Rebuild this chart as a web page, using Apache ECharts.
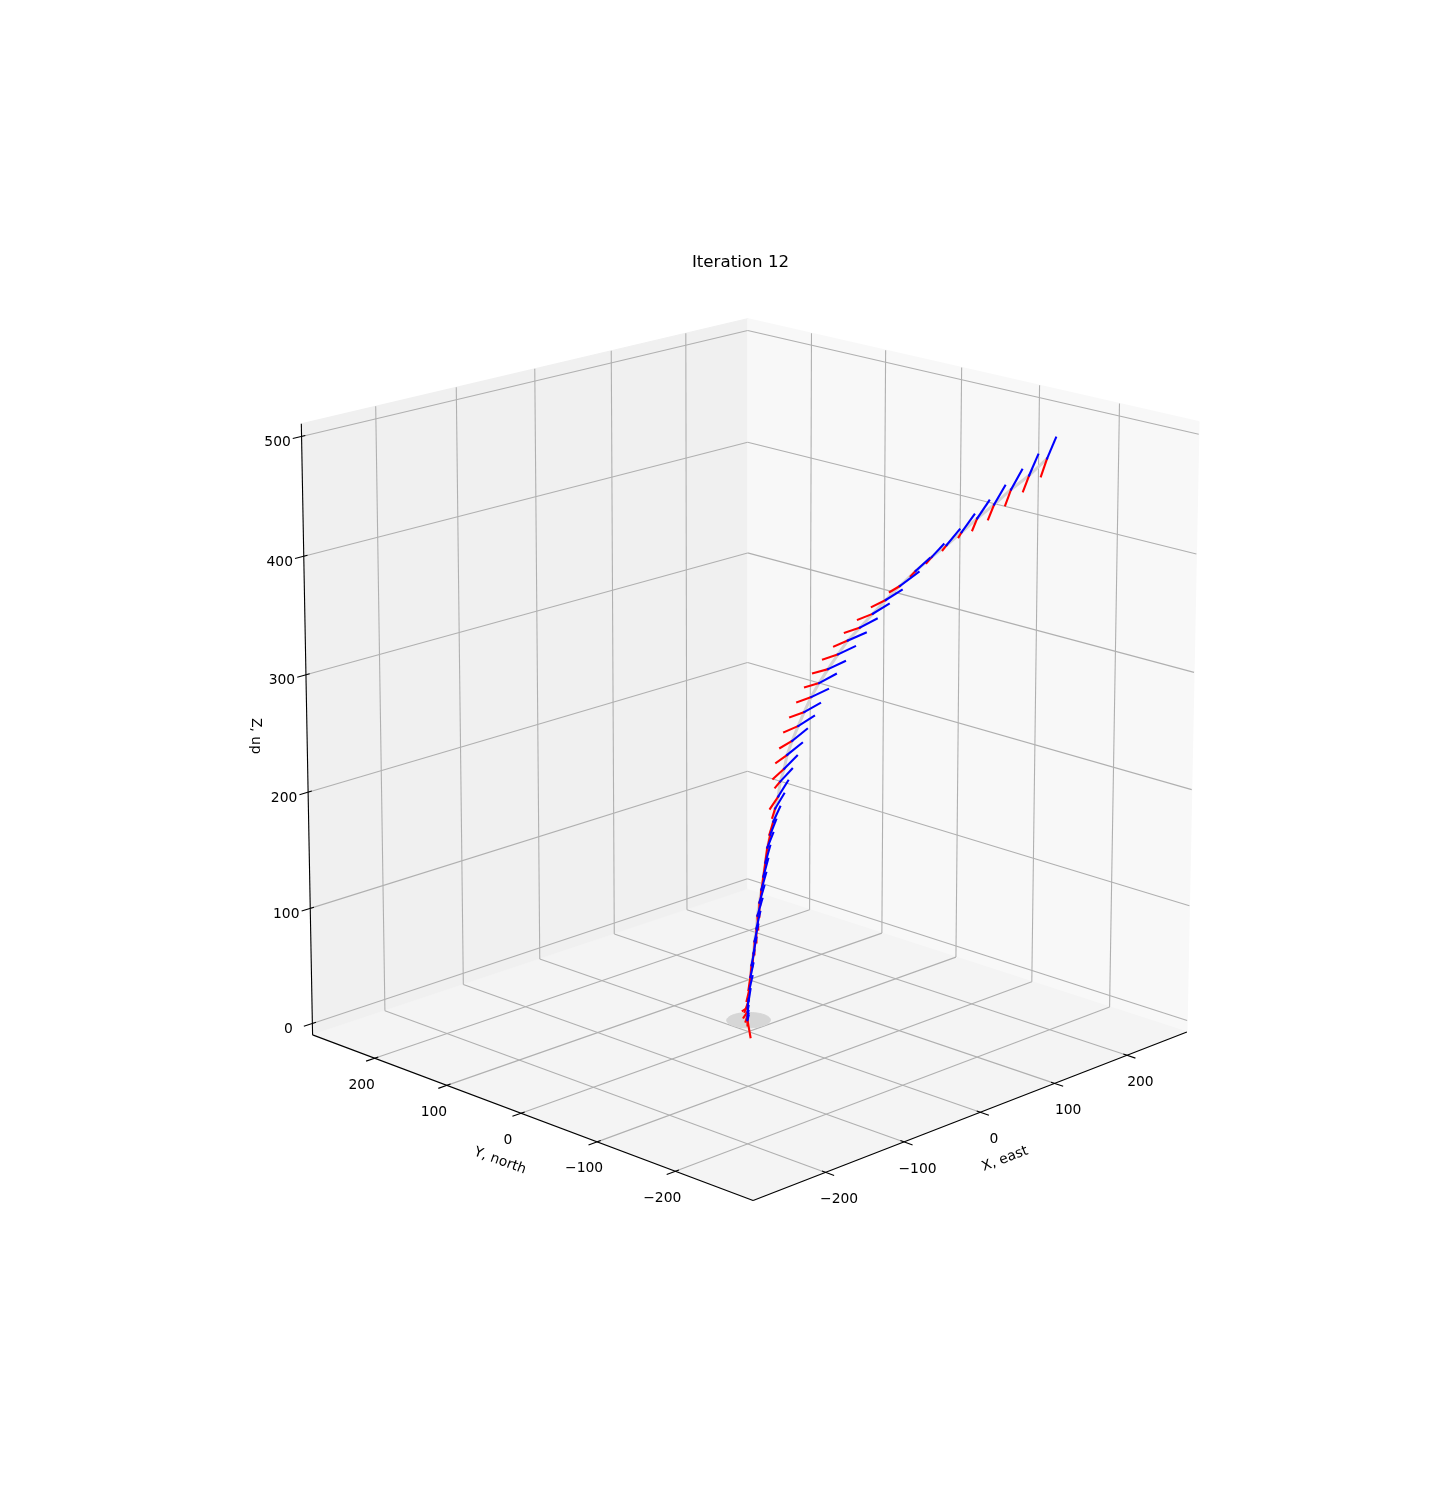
<!DOCTYPE html>
<html>
<head>
<meta charset="utf-8">
<title>Iteration 12</title>
<script src="https://cdn.jsdelivr.net/npm/echarts@6/dist/echarts.min.js"></script>
<style>
  html, body { margin: 0; padding: 0; background: #fff; }
  #chart { width: 1435px; height: 1485px; }
</style>
</head>
<body>
<div id="chart"></div>
<script>
const chartTitle = 'Iteration 12'
const xLabel = 'X, east'
const yLabel = 'Y, north'
const zLabel = 'Z, up'

const xLim = [-290, 285]
const yLim = [-297, 288]
const zLim = [-10, 510.5]

const xTicks = [-200, -100, 0, 100, 200]
const yTicks = [-200, -100, 0, 100, 200]
const zTicks = [0, 100, 200, 300, 400, 500]
const diskRadius = 20.5

// one tuft per entry, tail -> joint -> tip, all on the plane y = -x
const tipX = [198.9, 187.5, 177.2, 166.3, 156.1, 146.5, 137, 126.7, 117.7, 110.6, 99.7, 91.3, 83.5, 76.4, 69.4, 62.9, 57, 51.9, 46.7, 42.8, 38.2, 35, 31.7, 28.5, 25.9, 23.3, 20.7, 18.1, 16.2, 14.2, 12.9, 11.6, 10.4, 9.1, 7.7, 6.4, 5.2, 3.9, 3.2, 2.6, 1.3, 0, 0, 0, 0, 0]
const tipZ = [495.9, 481.7, 469.3, 456, 443.6, 432, 419.5, 407.1, 395.4, 383.8, 368.8, 357.1, 344.6, 332.9, 321.3, 308.8, 297.9, 285.2, 273.3, 262.3, 251.3, 239.4, 228.4, 217.4, 207.2, 196.1, 184.9, 173.7, 162.5, 151.3, 140.1, 128, 116.8, 105.6, 94.4, 83.2, 72, 60.8, 49.6, 38.4, 27.2, 18.5, 12.5, 8.2, 5.6, 3.9]
const jointX = [193.3, 181.8, 170.2, 159.3, 148.4, 138.3, 128.6, 119, 108.6, 98.4, 89.3, 80.9, 72.5, 64.7, 58.3, 51.8, 46, 40.8, 36.3, 32.4, 28.4, 25.2, 23.3, 20.7, 19.4, 17.4, 16.2, 14.2, 12.3, 11, 9.7, 8.4, 7.1, 5.8, 5.1, 3.9, 3.2, 1.9, 1.2, 0.6, 0, -0.7, -0.7, -0.7, -0.7, -0.7]
const jointZ = [478.4, 464.3, 452.7, 440.2, 428.6, 417, 406.2, 396.3, 384.6, 372.1, 360.4, 348.8, 337.1, 326.3, 314.6, 302.1, 290.3, 278.4, 265.7, 253.8, 241.1, 229.2, 217.4, 206.4, 193.5, 183.2, 172, 160.8, 149.6, 136.6, 124.6, 113.4, 102.2, 90.9, 79.7, 68.5, 58.2, 47.8, 37.5, 27.2, 16.8, 10.8, 7.3, 3.9, 1.3, 0]
const tailX = [189.5, 178, 166.5, 155.5, 145.3, 136.4, 126.1, 115.7, 105.4, 91.9, 80.2, 71.2, 62.7, 55.7, 48.5, 42, 36.8, 31.7, 27.1, 23.2, 20.6, 18, 16.1, 17.4, 14.1, 15.5, 13.6, 12.3, 11, 9.7, 8.4, 7.7, 7.1, 6.4, 5.2, 3.9, 2.6, 1.2, -0.1, -1.3, -2.6, -3.9, -3.3, -2, -0.7, 1.3]
const tailZ = [463.5, 451, 439.4, 427.8, 418.7, 412.9, 402.1, 391.3, 380.4, 367.1, 354.6, 343.8, 332.9, 321.3, 310.4, 298.7, 286.9, 274.2, 261.4, 248.7, 235.2, 222.5, 208.9, 201.3, 183.2, 175.4, 160.8, 148.7, 137.5, 124.6, 111.6, 100.4, 90.1, 78.9, 67.7, 57.3, 47, 36.6, 26.3, 16.8, 7.3, 8.2, 2.2, -1.3, -4.7, -15]

// camera: where the box corners land on the page (cube coords -> px)
const cornerFit = [
  [0, 1, 0, 313, 1038],
  [1, 0, 0, 1187, 1035],
  [0, 0, 0, 753, 1198],
  [1, 1, 0, 747, 886],
  [0, 1, 1, 301, 423],
  [1, 1, 1, 748, 320],
  [1, 0, 1, 1199, 421]
]

function solve(A, b) {
  const n = b.length
  const M = A.map((row, i) => row.concat(b[i]))
  for (let c = 0; c < n; c++) {
    let piv = c
    for (let r = c + 1; r < n; r++) if (Math.abs(M[r][c]) > Math.abs(M[piv][c])) piv = r
    const tmp = M[c]; M[c] = M[piv]; M[piv] = tmp
    for (let r = 0; r < n; r++) {
      if (r === c) continue
      const f = M[r][c] / M[c][c]
      for (let k = c; k <= n; k++) M[r][k] -= f * M[c][k]
    }
  }
  return M.map((row, i) => row[n] / row[i])
}

function fitCamera(pts) {
  const rows = [], rhs = []
  pts.forEach(([X, Y, Z, u, v]) => {
    const a = u / 1000, b = v / 1000
    rows.push([X, Y, Z, 1, 0, 0, 0, 0, -a * X, -a * Y, -a * Z]); rhs.push(a)
    rows.push([0, 0, 0, 0, X, Y, Z, 1, -b * X, -b * Y, -b * Z]); rhs.push(b)
  })
  const A = [], B = []
  for (let i = 0; i < 11; i++) {
    A.push([])
    let s = 0
    for (let j = 0; j < 11; j++) {
      let t = 0
      rows.forEach(r => { t += r[i] * r[j] })
      A[i].push(t)
    }
    rows.forEach((r, k) => { s += r[i] * rhs[k] })
    B.push(s)
  }
  return solve(A, B)
}

const cam = fitCamera(cornerFit)

function proj(x, y, z) {
  const X = (x - xLim[0]) / (xLim[1] - xLim[0])
  const Y = (y - yLim[0]) / (yLim[1] - yLim[0])
  const Z = (z - zLim[0]) / (zLim[1] - zLim[0])
  const w = cam[8] * X + cam[9] * Y + cam[10] * Z + 1
  return [
    1000 * (cam[0] * X + cam[1] * Y + cam[2] * Z + cam[3]) / w,
    1000 * (cam[4] * X + cam[5] * Y + cam[6] * Z + cam[7]) / w
  ]
}

function seg(a, b) {
  return a.concat(b)
}

const [x0, x1] = xLim, [y0, y1] = yLim, [z0, z1] = zLim
const tickOut = 10.5, tickIn = 4.5

const gridRows = []
xTicks.forEach(t => {
  gridRows.push(seg(proj(t, y0, z0), proj(t, y1, z0)))
  gridRows.push(seg(proj(t, y1, z0), proj(t, y1, z1)))
})
yTicks.forEach(t => {
  gridRows.push(seg(proj(x0, t, z0), proj(x1, t, z0)))
  gridRows.push(seg(proj(x1, t, z0), proj(x1, t, z1)))
})
zTicks.forEach(t => {
  gridRows.push(seg(proj(x0, y1, t), proj(x1, y1, t)))
  gridRows.push(seg(proj(x1, y1, t), proj(x1, y0, t)))
})

const axisRows = [
  seg(proj(x0, y0, z0), proj(x1, y0, z0)),
  seg(proj(x0, y0, z0), proj(x0, y1, z0)),
  seg(proj(x0, y1, z0), proj(x0, y1, z1))
]
xTicks.forEach(t => axisRows.push(seg(proj(t, y0 - tickOut, z0), proj(t, y0 + tickIn, z0))))
yTicks.forEach(t => axisRows.push(seg(proj(x0 - tickOut, t, z0), proj(x0 + tickIn, t, z0))))
zTicks.forEach(t => axisRows.push(seg(proj(x0 - tickOut, y1, t), proj(x0 + tickIn, y1, t))))

const minus = s => String(s).replace('-', '\u2212')
const texts = []
xTicks.forEach(t => {
  const p = proj(t, y0, z0)
  texts.push({ at: [p[0] + 13.5, p[1] + 27], text: minus(t), rot: 0 })
})
yTicks.forEach(t => {
  const p = proj(x0, t, z0)
  texts.push({ at: [p[0] - 13, p[1] + 27], text: minus(t), rot: 0 })
})
zTicks.forEach(t => {
  const p = proj(x0, y1, t)
  texts.push({ at: [p[0] - 24, p[1] + 6], text: minus(t), rot: 0 })
})
texts.push({ at: [1005, 1159], text: xLabel, rot: 21 })
texts.push({ at: [500, 1161], text: yLabel, rot: -20 })
texts.push({ at: [256, 736], text: zLabel, rot: -90 })

const panes = [
  { color: '#f0f0f0', pts: [proj(x0, y1, z0), proj(x1, y1, z0), proj(x1, y1, z1), proj(x0, y1, z1)] },
  { color: '#f8f8f8', pts: [proj(x1, y1, z0), proj(x1, y0, z0), proj(x1, y0, z1), proj(x1, y1, z1)] },
  { color: '#f4f4f4', pts: [proj(x0, y0, z0), proj(x1, y0, z0), proj(x1, y1, z0), proj(x0, y1, z0)] }
]

const diskPts = []
for (let i = 0; i < 72; i++) {
  const a = i / 72 * 2 * Math.PI
  diskPts.push(proj(diskRadius * Math.cos(a), diskRadius * Math.sin(a), 0))
}

const redRows = tipX.map((_, i) => seg(proj(tailX[i], -tailX[i], tailZ[i]), proj(jointX[i], -jointX[i], jointZ[i])))
const blueRows = tipX.map((_, i) => seg(proj(jointX[i], -jointX[i], jointZ[i]), proj(tipX[i], -tipX[i], tipZ[i])))
const greyRows = jointX.slice(1).map((_, i) => seg(proj(jointX[i], -jointX[i], jointZ[i]), proj(jointX[i + 1], -jointX[i + 1], jointZ[i + 1])))

function lineSeries(name, rows, color, width, z, cap) {
  return {
    type: 'custom',
    name: name,
    coordinateSystem: 'cartesian2d',
    clip: false,
    silent: true,
    z: z,
    encode: { x: [0, 2], y: [1, 3] },
    data: rows,
    renderItem: (params, api) => {
      const a = api.coord([api.value(0), api.value(1)])
      const b = api.coord([api.value(2), api.value(3)])
      return {
        type: 'line',
        shape: { x1: a[0], y1: a[1], x2: b[0], y2: b[1] },
        style: { stroke: color, lineWidth: width, lineCap: cap || 'butt' }
      }
    }
  }
}

function polySeries(name, polys, z) {
  return {
    type: 'custom',
    name: name,
    coordinateSystem: 'cartesian2d',
    clip: false,
    silent: true,
    z: z,
    encode: { x: 0, y: 1 },
    data: polys.map(p => p.pts[0]),
    renderItem: (params, api) => {
      const poly = polys[params.dataIndex]
      return {
        type: 'polygon',
        shape: { points: poly.pts.map(p => api.coord(p)) },
        style: { fill: poly.color, stroke: poly.color, lineWidth: 1 }
      }
    }
  }
}

const chart = echarts.init(document.getElementById('chart'), null, { renderer: 'canvas' })

chart.setOption({
  animation: false,
  backgroundColor: '#ffffff',
  title: {
    text: chartTitle,
    left: 735.5,
    top: 249,
    textAlign: 'center',
    textStyle: { fontFamily: 'DejaVu Sans', fontSize: 16.67, fontWeight: 'normal', color: '#000' }
  },
  grid: { left: 0, right: 0, top: 0, bottom: 0 },
  xAxis: { type: 'value', min: 0, max: 1435, show: false },
  yAxis: { type: 'value', min: 0, max: 1485, inverse: true, show: false },
  series: [
    polySeries('panes', panes, 1),
    lineSeries('grid', gridRows, '#b0b0b0', 1.1, 2),
    lineSeries('axes', axisRows, '#000000', 1.1, 3),
    polySeries('disk', [{ color: '#d6d6d6', pts: diskPts }], 4),
    lineSeries('track', greyRows, '#d3d3d3', 3, 5, 'round'),
    lineSeries('red', redRows, '#ff0000', 2.1, 6, 'square'),
    lineSeries('blue', blueRows, '#0000ff', 2.1, 7, 'square'),
    {
      type: 'custom',
      name: 'labels',
      coordinateSystem: 'cartesian2d',
      clip: false,
      silent: true,
      z: 8,
      encode: { x: 0, y: 1 },
      data: texts.map(t => t.at),
      renderItem: (params, api) => {
        const t = texts[params.dataIndex]
        const p = api.coord(t.at)
        return {
          type: 'text',
          x: p[0],
          y: p[1],
          rotation: t.rot * Math.PI / 180,
          style: {
            text: t.text,
            fill: '#000',
            font: '13.89px "DejaVu Sans"',
            textAlign: 'center',
            textVerticalAlign: 'middle'
          }
        }
      }
    }
  ]
})
</script>
</body>
</html>
